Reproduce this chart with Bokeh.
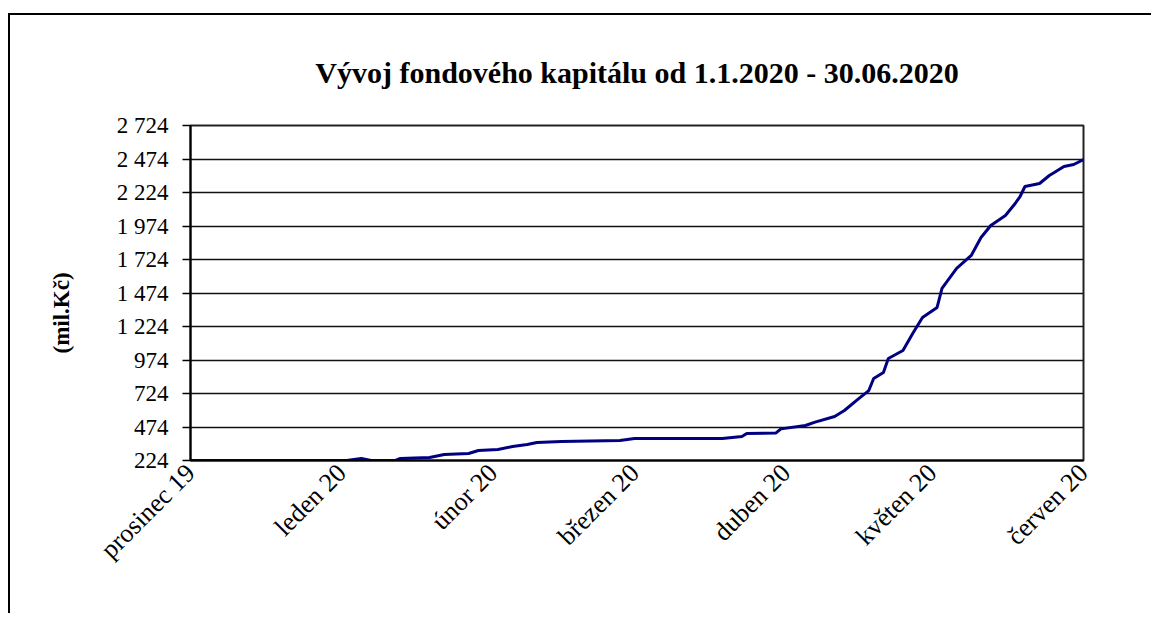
import pandas as pd
from bokeh.plotting import figure
from bokeh.models import FixedTicker, Range1d, Title
from bokeh.embed import file_html
from bokeh.resources import INLINE
import math

# ---- data ----
dates = ["2019-12-01", "2020-01-02", "2020-01-05", "2020-01-07", "2020-01-12", "2020-01-13",
         "2020-01-19", "2020-01-22", "2020-01-27", "2020-01-29", "2020-02-02", "2020-02-05",
         "2020-02-08", "2020-02-10", "2020-02-15", "2020-02-27", "2020-03-01", "2020-03-19",
         "2020-03-23", "2020-03-24", "2020-03-30", "2020-03-31", "2020-04-05", "2020-04-07",
         "2020-04-11", "2020-04-13", "2020-04-16", "2020-04-18", "2020-04-19", "2020-04-21",
         "2020-04-22", "2020-04-25", "2020-04-27", "2020-04-29", "2020-05-02", "2020-05-03",
         "2020-05-06", "2020-05-09", "2020-05-11", "2020-05-13", "2020-05-16", "2020-05-18",
         "2020-05-19", "2020-05-20", "2020-05-23", "2020-05-25", "2020-05-26", "2020-05-28",
         "2020-05-30", "2020-06-01"]
values = [224, 224, 239, 224, 224, 239, 246, 269, 276, 299,
          306, 328, 343, 358, 366, 373, 388, 388, 403, 425,
          430, 460, 485, 510, 552, 597, 687, 746, 836, 881,
          985, 1045, 1172, 1291, 1366, 1508, 1657, 1754, 1888, 1978,
          2052, 2142, 2194, 2269, 2291, 2351, 2373, 2418, 2433, 2470]

month_starts = ["2019-12-01", "2020-01-01", "2020-02-01", "2020-03-01",
                "2020-04-01", "2020-05-01", "2020-06-01"]
month_labels = ["prosinec 19", "leden 20", "únor 20", "březen 20",
                "duben 20", "květen 20", "červen 20"]
y_ticks = [224, 474, 724, 974, 1224, 1474, 1724, 1974, 2224, 2474, 2724]

title_text = "Vývoj fondového kapitálu od 1.1.2020 - 30.06.2020"
y_label = "(mil.Kč)"

# ---- derived ----
origin = pd.Timestamp(month_starts[0])
xs = [(pd.Timestamp(d) - origin).days for d in dates]
x_ticks = [(pd.Timestamp(d) - origin).days for d in month_starts]

def fmt(v):
    return f"{v:,}".replace(",", " ")

FONT = "Liberation Serif"

p = figure(width=1143, height=600, output_backend="svg", toolbar_location=None,
           x_range=Range1d(x_ticks[0], x_ticks[-1]),
           y_range=Range1d(y_ticks[0], y_ticks[-1]),
           title=title_text,
           min_border_left=180, min_border_top=110,
           min_border_right=70, min_border_bottom=155)
p.styles = {"border-left": "2px solid #000", "border-top": "2px solid #000",
            "margin-top": "13px", "margin-left": "8px"}

p.title.text_font = FONT
p.title.text_font_size = "30px"
p.title.text_font_style = "bold"
p.title.align = "center"
p.title.text_color = "#000000"
p.title.standoff = 74

p.line(xs, values, line_color="#000080", line_width=3)

p.outline_line_color = "#222222"
p.outline_line_width = 2

p.xgrid.visible = False
p.ygrid.ticker = FixedTicker(ticks=y_ticks)
p.ygrid.grid_line_color = "#111111"
p.ygrid.grid_line_width = 1.6

# y axis
p.yaxis.ticker = FixedTicker(ticks=y_ticks)
p.yaxis.major_label_overrides = {t: fmt(t) for t in y_ticks}
p.yaxis.major_label_text_font = FONT
p.yaxis.major_label_text_font_size = "23px"
p.yaxis.major_label_text_color = "#000000"
p.yaxis.major_tick_in = 0
p.yaxis.major_tick_out = 8
p.yaxis.major_tick_line_width = 1.5
p.yaxis.minor_tick_line_color = None
p.yaxis.major_label_standoff = 14
p.yaxis.axis_line_width = 2

# y axis title on the left side, a bit below the frame centre
p.add_layout(Title(text=y_label, align="left", offset=107, standoff=76,
                   vertical_align="top",
                   text_font=FONT, text_font_size="23px",
                   text_font_style="bold", text_color="#000000"), "left")

# x axis
p.xaxis.ticker = FixedTicker(ticks=x_ticks)
p.xaxis.major_label_overrides = {t: l for t, l in zip(x_ticks, month_labels)}
p.xaxis.major_label_orientation = math.pi / 4
p.xaxis.major_label_text_font = FONT
p.xaxis.major_label_text_font_size = "26px"
p.xaxis.major_label_text_color = "#000000"
p.xaxis.major_tick_in = 0
p.xaxis.major_tick_out = 0
p.xaxis.minor_tick_line_color = None
p.xaxis.major_label_standoff = 8
p.xaxis.axis_line_width = 2

open("out.html", "w").write(file_html(p, INLINE))
